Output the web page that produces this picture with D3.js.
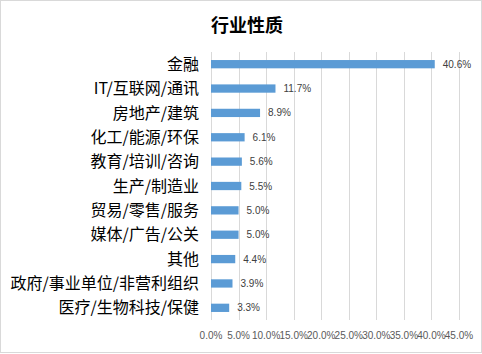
<!DOCTYPE html>
<html>
<meta charset="utf-8">
<head>
  <script src="https://d3js.org/d3.v7.min.js"></script>
  <style type="text/css">
    body {margin: 0; background: #fff;}
    text {font-family: "Noto Sans CJK SC", "Noto Sans", sans-serif;}
    .num {font-family: "Liberation Sans", "DejaVu Sans", sans-serif;}
  </style>
</head>
<body>
<div id="chart"></div>
<script>
    // data
    var categories = ["金融", "IT/互联网/通讯", "房地产/建筑", "化工/能源/环保", "教育/培训/咨询",
        "生产/制造业", "贸易/零售/服务", "媒体/广告/公关", "其他", "政府/事业单位/非营利组织", "医疗/生物科技/保健"];
    var values = [40.6, 11.7, 8.9, 6.1, 5.6, 5.5, 5.0, 5.0, 4.4, 3.9, 3.3];
    var ticks = [0, 5, 10, 15, 20, 25, 30, 35, 40, 45];

    var W = 482, H = 354;
    var margin = {top: 52, left: 211, right: 23, bottom: 34};

    var svg = d3.select("#chart")
        .append("svg")
        .attr("width", W)
        .attr("height", H);

    // outer frame
    svg.append("rect")
        .attr("x", 0.5).attr("y", 0.5)
        .attr("width", W - 1).attr("height", H - 2)
        .attr("fill", "#fff")
        .attr("stroke", "#d9d9d9");

    svg.append("text")
        .attr("x", 247).attr("y", 32)
        .attr("text-anchor", "middle")
        .attr("font-size", 18)
        .attr("font-weight", "bold")
        .attr("fill", "#000")
        .text("行业性质");

    var x = d3.scaleLinear()
        .domain([0, 45])
        .range([margin.left, W - margin.right]);

    var y = d3.scaleBand()
        .domain(categories)
        .range([margin.top, H - margin.bottom])
        .paddingInner(0.66)
        .paddingOuter(0.33);

    // gridlines
    svg.append("g")
        .selectAll("line")
        .data(ticks)
        .enter()
        .append("line")
        .attr("x1", function(d) { return Math.round(x(d)) + 0.5; })
        .attr("x2", function(d) { return Math.round(x(d)) + 0.5; })
        .attr("y1", margin.top)
        .attr("y2", H - margin.bottom)
        .attr("stroke", "#d9d9d9")
        .attr("stroke-width", 1);

    // x tick labels
    svg.append("g")
        .selectAll("text")
        .data(ticks)
        .enter()
        .append("text")
        .attr("class", "num")
        .attr("x", function(d) { return x(d); })
        .attr("y", 339)
        .attr("text-anchor", "middle")
        .attr("font-size", 10)
        .attr("fill", "#595959")
        .text(function(d) { return d.toFixed(1) + "%"; });

    // category labels
    svg.append("g")
        .selectAll("text")
        .data(categories)
        .enter()
        .append("text")
        .attr("x", 199)
        .attr("y", function(d) { return y(d) + y.bandwidth() / 2; })
        .attr("dy", "0.35em")
        .attr("text-anchor", "end")
        .attr("font-size", 16)
        .attr("fill", "#000")
        .text(function(d) { return d; });

    // bars
    svg.append("g")
        .selectAll("rect")
        .data(values)
        .enter()
        .append("rect")
        .attr("x", x(0))
        .attr("y", function(d, i) { return y(categories[i]); })
        .attr("width", function(d) { return x(d) - x(0); })
        .attr("height", y.bandwidth())
        .attr("fill", "#5b9bd5");

    // value labels
    svg.append("g")
        .selectAll("text")
        .data(values)
        .enter()
        .append("text")
        .attr("class", "num")
        .attr("x", function(d) { return x(d) + 8; })
        .attr("y", function(d, i) { return y(categories[i]) + y.bandwidth() / 2; })
        .attr("dy", "0.35em")
        .attr("font-size", 10)
        .attr("fill", "#404040")
        .text(function(d) { return d.toFixed(1) + "%"; });
</script>
</body>
</html>
